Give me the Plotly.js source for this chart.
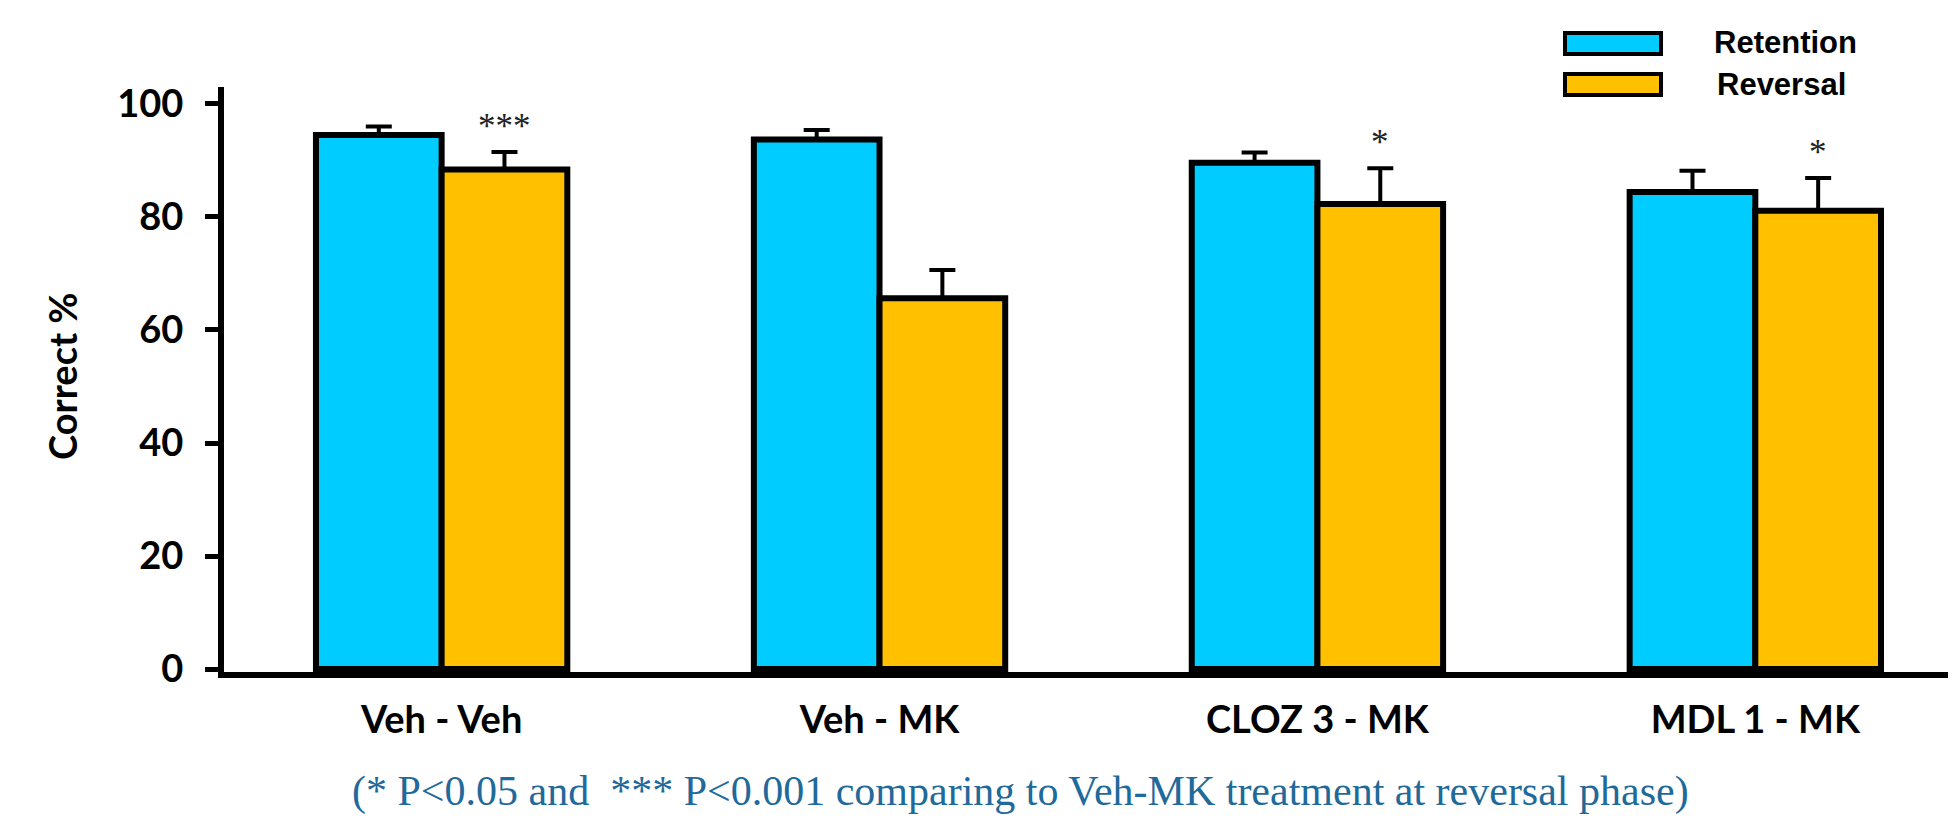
<!DOCTYPE html>
<html>
<head>
<meta charset="utf-8">
<script src="https://cdn.plot.ly/plotly-3.0.1.min.js"></script>
<style>
  html, body { margin: 0; padding: 0; background: #ffffff; }
  #chart { width: 1954px; height: 819px; }
</style>
</head>
<body>
<div id="chart"></div>
<script>
// Treatment groups and mean correct responses (%) with SEM
const groups = ['Veh - Veh', 'Veh - MK', 'CLOZ 3 - MK', 'MDL 1 - MK'];
const seriesNames = ['Retention', 'Reversal'];
const retention = [94.5, 93.7, 89.6, 84.4];
const retentionSem = [1.5, 1.7, 1.8, 3.8];
const reversal = [88.4, 65.6, 82.3, 81.1];
const reversalSem = [3.1, 5.0, 6.3, 5.8];
const reversalMarks = ['***', '', '*', '*'];
const yTicks = [0, 20, 40, 60, 80, 100];
const yTitle = 'Correct %';
const footnote = '(* P&lt;0.05 and\u00a0 *** P&lt;0.001 comparing to Veh-MK treatment at reversal phase)';

// Page geometry
const W = 1954, H = 819;
const M = { l: 224, r: 6, t: 87, b: 147 };
const plotW = W - M.l - M.r, plotH = H - M.t - M.b;
const px2x = px => (px - M.l) / plotW;
const px2y = py => (H - M.b - py) / plotH;

const COLORS = { Retention: '#00CCFF', Reversal: '#FFC000' };
const BARGAP = 0.426;
const tickFont = { family: 'Lato, sans-serif', size: 38, color: '#000000', weight: 'bold' };

function barTrace(name, values, sem) {
  return {
    type: 'bar',
    name: name,
    x: groups,
    y: values,
    marker: { color: COLORS[name], line: { color: '#000000', width: 6 } },
    error_y: {
      type: 'data', symmetric: false,
      array: sem, arrayminus: sem.map(() => 0),
      color: '#000000', thickness: 4, width: 13
    },
    hoverinfo: 'x+y'
  };
}

const traces = [
  barTrace(seriesNames[0], retention, retentionSem),
  barTrace(seriesNames[1], reversal, reversalSem)
];

// Significance marks above the reversal bars
const reversalOffset = (1 - BARGAP) / 4;
const annotations = [];
reversalMarks.forEach((mark, i) => {
  if (!mark) return;
  annotations.push({
    xref: 'x', yref: 'y',
    x: i + reversalOffset, y: reversal[i] + reversalSem[i],
    text: mark, showarrow: false,
    xanchor: 'center', yanchor: 'bottom', yshift: 4,
    font: { family: 'Liberation Serif, serif', size: 35, color: '#222222' }
  });
});

// Y axis title
annotations.push({
  xref: 'paper', yref: 'paper',
  x: px2x(62), y: px2y(376),
  text: yTitle, textangle: -90, showarrow: false,
  xanchor: 'center', yanchor: 'middle',
  font: tickFont
});

// Legend labels
const legendRows = [
  { name: seriesNames[0], box: [1565, 33, 1661, 54], textX: 1712, textY: 42 },
  { name: seriesNames[1], box: [1565, 74, 1661, 95], textX: 1715, textY: 84 }
];
const shapes = [];
legendRows.forEach(row => {
  shapes.push({
    type: 'rect', xref: 'paper', yref: 'paper',
    x0: px2x(row.box[0]), x1: px2x(row.box[2]),
    y0: px2y(row.box[3]), y1: px2y(row.box[1]),
    fillcolor: COLORS[row.name], line: { color: '#000000', width: 4 }
  });
  annotations.push({
    xref: 'paper', yref: 'paper',
    x: px2x(row.textX), y: px2y(row.textY),
    text: row.name, showarrow: false,
    xanchor: 'left', yanchor: 'middle',
    font: { family: 'Liberation Sans, Arial, sans-serif', size: 31, color: '#000000', weight: 'bold' }
  });
});

// Footnote
annotations.push({
  xref: 'paper', yref: 'paper',
  x: px2x(1020), y: px2y(791),
  text: footnote, showarrow: false,
  xanchor: 'center', yanchor: 'middle',
  font: { family: 'Liberation Serif, Times New Roman, serif', size: 42, color: '#1F6A9A' }
});

const layout = {
  width: W, height: H,
  margin: M,
  paper_bgcolor: '#ffffff', plot_bgcolor: '#ffffff',
  barmode: 'group', bargap: BARGAP, bargroupgap: 0,
  showlegend: false,
  xaxis: {
    type: 'category', range: [-0.497, 3.44],
    showline: true, linecolor: '#000000', linewidth: 6,
    ticks: '', showgrid: false, zeroline: false,
    tickfont: tickFont, ticklabelstandoff: 9
  },
  yaxis: {
    range: [-0.525, 103], tickvals: yTicks,
    showline: true, linecolor: '#000000', linewidth: 6,
    ticks: 'outside', ticklen: 13, tickwidth: 5, tickcolor: '#000000',
    showgrid: false, zeroline: false,
    tickfont: tickFont, ticklabelstandoff: 14
  },
  shapes: shapes,
  annotations: annotations
};

Plotly.newPlot('chart', traces, layout, { displayModeBar: false, responsive: false });
</script>
</body>
</html>
